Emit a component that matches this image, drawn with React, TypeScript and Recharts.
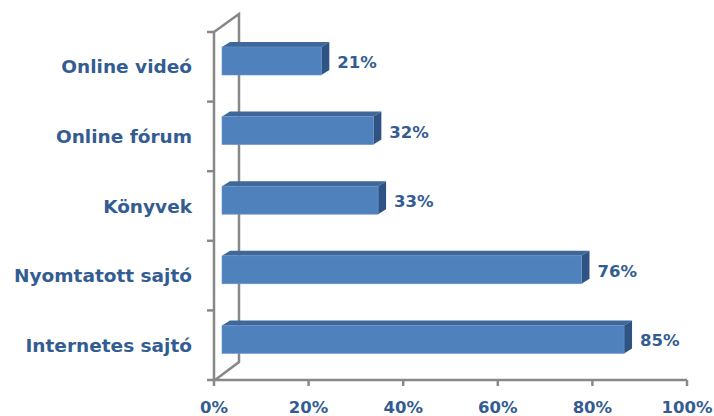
import { BarChart, Bar, XAxis, YAxis, LabelList } from "recharts";

const categories = ["Online videó", "Online fórum", "Könyvek", "Nyomtatott sajtó", "Internetes sajtó"];
const shares = [0.21, 0.32, 0.33, 0.76, 0.85];
const xTicks = [0, 0.2, 0.4, 0.6, 0.8, 1];

const data = categories.map((name, i) => ({ name, value: shares[i] }));

const W = 714;
const H = 416;
const LEFT = 214;
const TOP = 32;
const BOTTOM = 380;
const RIGHT = 687;
const DX = 8; // bar depth shift
const DY = 6;
const WALL_X = 25; // floor depth
const WALL_Y = 18;

const TEXT = "#335d92";
const GRID = "#888888";
const LINE_W = 2.5;
const FONT = "'DejaVu Sans', sans-serif";

const pct = (v: number) => `${Math.round(v * 100)}%`;

const Bar3D = (props: any) => {
  const { x, y, width, height } = props;
  const fx = x + DX;
  const fy = y - DY;
  const d = 8;
  const e = 5;
  return (
    <g>
      <polygon
        points={`${fx},${fy} ${fx + width},${fy} ${fx + width + d},${fy - e} ${fx + d},${fy - e}`}
        fill="#3d6899"
      />
      <polygon
        points={`${fx + width},${fy} ${fx + width + d},${fy - e} ${fx + width + d},${fy + height - e} ${fx + width},${fy + height}`}
        fill="#2f5382"
      />
      <rect x={fx} y={fy} width={width} height={height} fill="#4f81bd" stroke="#6a94c8" strokeWidth={0.6} />
    </g>
  );
};

const ValueLabel = (props: any) => {
  const { x, y, width, height, value } = props;
  return (
    <text
      x={x + width + 24}
      y={y + height / 2 - 4.5}
      fill={TEXT}
      fontFamily={FONT}
      fontWeight="bold"
      fontSize={16.5}
      dominantBaseline="central"
    >
      {pct(value)}
    </text>
  );
};

const Walls = () => {
  const band = (BOTTOM - TOP) / categories.length;
  const bounds = Array.from({ length: categories.length + 1 }, (_, i) => TOP + i * band);
  return (
    <g stroke={GRID} strokeWidth={LINE_W} fill="none">
      <polyline
        points={`${LEFT},${TOP} ${LEFT + WALL_X},${TOP - WALL_Y} ${LEFT + WALL_X},${BOTTOM - WALL_Y} ${LEFT + 1},${BOTTOM}`}
      />
      {bounds.map((b) => (
        <line key={b} x1={LEFT - 7} x2={LEFT} y1={b} y2={b} />
      ))}
    </g>
  );
};

export default function App() {
  return (
    <div style={{ position: "absolute", left: 0, top: 0, width: W, height: H, background: "#fff" }}>
      <BarChart
        width={W}
        height={H}
        data={data}
        layout="vertical"
        margin={{ top: TOP, right: W - RIGHT, bottom: 0, left: 0 }}
      >
        <Walls />
        <XAxis
          type="number"
          domain={[0, 1]}
          ticks={xTicks}
          tickFormatter={pct}
          height={H - BOTTOM}
          axisLine={{ stroke: GRID, strokeWidth: LINE_W }}
          tickLine={{ stroke: GRID, strokeWidth: LINE_W }}
          tickSize={6}
          tickMargin={15}
          tick={{ fill: TEXT, fontFamily: FONT, fontWeight: "bold", fontSize: 16.5 }}
        />
        <YAxis
          type="category"
          dataKey="name"
          width={LEFT}
          axisLine={{ stroke: GRID, strokeWidth: LINE_W }}
          tickLine={false}
          tickSize={0}
          tickMargin={22}
          tick={{ fill: TEXT, fontFamily: FONT, fontWeight: "bold", fontSize: 18.5 }}
        />
        <Bar dataKey="value" barSize={28} shape={Bar3D} isAnimationActive={false}>
          <LabelList dataKey="value" content={ValueLabel} />
        </Bar>
      </BarChart>
    </div>
  );
}
